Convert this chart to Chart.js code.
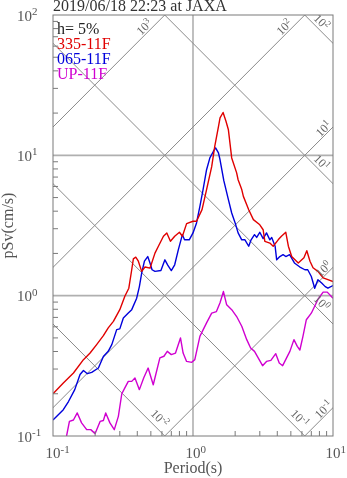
<!DOCTYPE html>
<html>
<head>
<meta charset="utf-8">
<script src="https://cdn.jsdelivr.net/npm/chart.js@4/dist/chart.umd.min.js"></script>
<style>
  html, body { margin: 0; padding: 0; background: #fff; }
  #wrap { width: 347px; height: 478px; position: relative; }
</style>
</head>
<body>
<div id="wrap"><canvas id="chart" width="347" height="478"></canvas></div>
<script>
// Pseudo-velocity response spectra, tripartite log-log plot
const titleText = '2019/06/18 22:23 at JAXA';
const dampingText = 'h= 5%';
const seriesNames = ['335-11F', '065-11F', 'UP-11F'];
const seriesColors = ['#e00000', '#0000dc', '#d000d0'];

// Period (s) and pSv (cm/s) for each component
const periods335 = [0.1,0.1185,0.14,0.165,0.184,0.205,0.229,0.248,0.27,0.3,0.326,0.348,0.365,0.375,0.39,0.407,0.43,0.454,0.493,0.535,0.566,0.615,0.65,0.69,0.74,0.8,0.84,0.9,1.0,1.06,1.16,1.25,1.36,1.43,1.52,1.56,1.64,1.72,1.79,1.89,2.05,2.1,2.23,2.29,2.42,2.5,2.7,3.0,3.17,3.26,3.54,3.74,4.06,4.28,4.6,4.8,5.07,5.65,6.2,6.5,6.85,7.2,7.8,8.5,9.2,10];
const sv335 = [0.2,0.239,0.281,0.35,0.39,0.448,0.519,0.589,0.656,0.795,0.99,1.13,1.53,1.83,1.88,1.76,1.49,1.6,1.57,2.01,2.25,2.65,2.8,2.44,2.65,2.83,2.65,3.26,3.39,3.39,4.1,5.7,8.3,11.6,16,18.5,20.2,17.5,15.2,9.58,7.5,6.7,5.7,5.1,4.45,4.1,3.48,3.2,2.95,2.44,2.37,2.25,2.5,2.65,2.83,2.25,1.9,1.71,1.86,2.09,1.76,1.58,1.49,1.34,1.3,1.26];

const periods065 = [0.1,0.1185,0.129,0.143,0.156,0.165,0.176,0.189,0.211,0.229,0.248,0.263,0.285,0.3,0.318,0.345,0.365,0.396,0.414,0.43,0.45,0.475,0.493,0.51,0.535,0.59,0.63,0.66,0.7,0.74,0.786,0.84,0.87,0.94,1.0,1.06,1.12,1.18,1.25,1.32,1.4,1.45,1.52,1.56,1.66,1.79,1.89,2.0,2.1,2.23,2.35,2.5,2.6,2.75,2.85,3.0,3.17,3.35,3.54,3.65,3.86,3.96,4.17,4.4,4.6,4.9,5.3,5.8,6.3,6.6,7.0,7.4,7.8,8.3,8.8,9.2,10];
const sv065 = [0.13,0.154,0.176,0.214,0.274,0.293,0.278,0.284,0.305,0.369,0.401,0.448,0.573,0.58,0.694,0.752,0.795,0.96,1.16,1.45,1.76,1.9,1.71,1.53,1.49,1.51,1.8,1.65,1.51,1.66,2.13,2.72,2.5,2.5,2.8,3.3,4.33,5.7,7.9,9.6,10.7,11.3,10.4,9.3,6.6,4.83,3.88,3.3,2.8,2.5,2.5,2.25,2.5,2.72,2.6,2.83,2.55,2.8,2.5,2.6,2.25,1.8,1.9,1.96,1.9,1.96,1.71,1.6,1.53,1.53,1.37,1.13,1.3,1.23,1.16,1.13,1.18];

const periodsUP = [0.118,0.125,0.131,0.14,0.149,0.16,0.174,0.186,0.2,0.217,0.229,0.238,0.255,0.274,0.293,0.31,0.326,0.345,0.365,0.385,0.414,0.445,0.478,0.52,0.58,0.62,0.655,0.7,0.75,0.814,0.85,0.9,0.98,1.03,1.12,1.25,1.36,1.47,1.56,1.65,1.74,1.89,2.05,2.23,2.42,2.58,2.75,2.97,3.14,3.35,3.6,3.9,4.13,4.37,4.66,4.92,5.26,5.56,5.8,6.1,6.45,7.0,7.4,7.8,8.5,9.1,10];
const svUP = [0.085,0.1,0.127,0.13,0.146,0.124,0.111,0.111,0.104,0.127,0.129,0.146,0.124,0.111,0.138,0.2,0.22,0.245,0.245,0.259,0.214,0.26,0.305,0.232,0.36,0.37,0.401,0.38,0.39,0.5,0.39,0.34,0.335,0.35,0.513,0.64,0.75,0.77,0.89,1.07,0.86,0.795,0.71,0.605,0.486,0.424,0.401,0.35,0.317,0.34,0.346,0.386,0.331,0.317,0.36,0.401,0.486,0.435,0.41,0.513,0.674,0.75,0.84,0.94,1.06,1.06,0.96];

// Axis decades (exponents) and diagonal guide levels
const xTickExponents = [-1, 0, 1];
const yTickExponents = [-1, 0, 1, 2];
const accelExponents = [-1, 0, 1, 2, 3];   // Sa (cm/s^2)
const dispExponents = [-2, -1, 0, 1, 2];    // Sd (cm)

const TWO_PI = 2 * Math.PI;
const SERIF = '"Liberation Serif", "Times New Roman", serif';

function zip(xs, ys) { return xs.map((x, i) => ({ x: x, y: ys[i] })); }

// Constant-acceleration lines: Sv = Sa*T/(2*pi); constant-displacement: Sv = 2*pi*Sd/T
const guideT = [0.05, 20];
const guideSets = [];
accelExponents.forEach(e => {
  const sa = Math.pow(10, e);
  guideSets.push({ data: guideT.map(t => ({ x: t, y: sa * t / TWO_PI })) });
});
dispExponents.forEach(e => {
  const sd = Math.pow(10, e);
  guideSets.push({ data: guideT.map(t => ({ x: t, y: TWO_PI * sd / t })) });
});

const curveSets = [
  { data: zip(periods335, sv335), borderColor: seriesColors[0] },
  { data: zip(periods065, sv065), borderColor: seriesColors[1] },
  { data: zip(periodsUP, svUP), borderColor: seriesColors[2] }
].map(d => Object.assign(d, { borderWidth: 1.4, pointRadius: 0, tension: 0, clip: 0, order: 0, fill: false }));

guideSets.forEach(d => Object.assign(d, { borderColor: '#8a8a8a', borderWidth: 1, pointRadius: 0, tension: 0, clip: 0, order: 1, fill: false }));

// "10" with a raised exponent
function drawPow(ctx, exp, x, y, size, supSize, align) {
  ctx.font = size + 'px ' + SERIF;
  const wb = ctx.measureText('10').width;
  ctx.font = supSize + 'px ' + SERIF;
  const ws = ctx.measureText(exp).width;
  let x0 = x;
  if (align === 'center') x0 = x - (wb + ws) / 2;
  else if (align === 'baseCenter') x0 = x - wb / 2;
  ctx.textAlign = 'left';
  ctx.textBaseline = 'alphabetic';
  ctx.font = size + 'px ' + SERIF;
  ctx.fillText('10', x0, y);
  ctx.font = supSize + 'px ' + SERIF;
  ctx.fillText(exp, x0 + wb, y - size * 0.36);
}

function fmtExp(e) { return e < 0 ? '-' + (-e) : String(e); }

const decorPlugin = {
  id: 'decor',
  beforeDatasetsDraw(chart) {
    const { ctx, chartArea: a, scales: { x, y } } = chart;
    ctx.save();
    ctx.strokeStyle = '#b0b0b0';
    ctx.lineWidth = 1.6;
    xTickExponents.forEach(e => {
      const px = x.getPixelForValue(Math.pow(10, e));
      if (px > a.left + 1 && px < a.right - 1) {
        ctx.beginPath(); ctx.moveTo(px, a.top); ctx.lineTo(px, a.bottom); ctx.stroke();
      }
    });
    yTickExponents.forEach(e => {
      const py = y.getPixelForValue(Math.pow(10, e));
      if (py > a.top + 1 && py < a.bottom - 1) {
        ctx.beginPath(); ctx.moveTo(a.left, py); ctx.lineTo(a.right, py); ctx.stroke();
      }
    });
    ctx.restore();
  },
  afterDatasetsDraw(chart) {
    const { ctx, chartArea: a, scales: { x, y } } = chart;
    ctx.save();
    // frame
    ctx.strokeStyle = '#7a7a7a';
    ctx.lineWidth = 1;
    ctx.strokeRect(a.left, a.top, a.right - a.left, a.bottom - a.top);

    // minor ticks, inward, on left and bottom axes
    ctx.beginPath();
    for (let e = -1; e < 2; e++) {
      for (let k = 2; k <= 9; k++) {
        const py = y.getPixelForValue(k * Math.pow(10, e));
        ctx.moveTo(a.left, py); ctx.lineTo(a.left + 5, py);
      }
    }
    for (let e = -1; e < 1; e++) {
      for (let k = 2; k <= 9; k++) {
        const px = x.getPixelForValue(k * Math.pow(10, e));
        ctx.moveTo(px, a.bottom); ctx.lineTo(px, a.bottom - 5);
      }
    }
    ctx.stroke();

    // labels on the diagonal guide lines
    ctx.fillStyle = '#666';
    const s2 = Math.SQRT1_2;
    const xMax = x.max, yMax = y.max, yMin = y.min;
    accelExponents.forEach(e => {
      const sa = Math.pow(10, e);
      let tExit = yMax * TWO_PI / sa, svExit = yMax, along = 23, perp = 6;
      if (tExit > xMax) { tExit = xMax; svExit = sa * xMax / TWO_PI; along = 8; perp = 5.5; }
      const ex = x.getPixelForValue(tExit), ey = y.getPixelForValue(svExit);
      const cx = ex - along * s2 - perp * s2;
      const cy = ey + along * s2 - perp * s2;
      ctx.save();
      ctx.translate(cx, cy);
      ctx.rotate(-Math.PI / 4);
      drawPow(ctx, fmtExp(e), 0, 4, 12, 9, 'center');
      ctx.restore();
    });
    dispExponents.forEach(e => {
      const sd = Math.pow(10, e);
      let tExit = xMax, svExit = TWO_PI * sd / xMax, along = 23, perp = 7;
      if (svExit < yMin) { svExit = yMin; tExit = TWO_PI * sd / yMin; along = 16; perp = 9; }
      const ex = x.getPixelForValue(tExit), ey = y.getPixelForValue(svExit);
      const cx = ex - along * s2 + perp * s2;
      const cy = ey - along * s2 - perp * s2;
      ctx.save();
      ctx.translate(cx, cy);
      ctx.rotate(Math.PI / 4);
      drawPow(ctx, fmtExp(e), 0, 4, 12, 9, 'center');
      ctx.restore();
    });
    ctx.restore();
  },
  afterDraw(chart) {
    const { ctx, chartArea: a, scales: { x, y } } = chart;
    ctx.save();
    // tick labels
    ctx.fillStyle = '#555';
    yTickExponents.forEach(e => {
      const py = y.getPixelForValue(Math.pow(10, e));
      drawPow(ctx, fmtExp(e), 17, py + 5.5, 15, 11, 'left');
    });
    xTickExponents.forEach(e => {
      const px = x.getPixelForValue(Math.pow(10, e));
      drawPow(ctx, fmtExp(e), px, 458, 15, 11, 'baseCenter');
    });

    // axis titles
    ctx.font = '16px ' + SERIF;
    ctx.textAlign = 'center';
    ctx.textBaseline = 'alphabetic';
    ctx.fillText('Period(s)', (a.left + a.right) / 2, 473);
    ctx.save();
    ctx.translate(13, (a.top + a.bottom) / 2);
    ctx.rotate(-Math.PI / 2);
    ctx.fillText('pSv(cm/s)', 0, 0);
    ctx.restore();

    // chart title
    ctx.fillStyle = '#333';
    ctx.textAlign = 'left';
    ctx.fillText(titleText, a.left, 11);

    // legend block
    ctx.fillStyle = '#222';
    ctx.fillText(dampingText, 57, 34);
    seriesNames.forEach((n, i) => {
      ctx.fillStyle = seriesColors[i];
      ctx.fillText(n, 57, 49 + i * 15);
    });
    ctx.restore();
  }
};

new Chart(document.getElementById('chart'), {
  type: 'line',
  data: { datasets: curveSets.concat(guideSets) },
  options: {
    responsive: false,
    animation: false,
    devicePixelRatio: 1,
    parsing: true,
    layout: { padding: { left: 53, top: 15, right: 14, bottom: 42 } },
    scales: {
      x: { type: 'logarithmic', min: 0.1, max: 10, display: false },
      y: { type: 'logarithmic', min: 0.1, max: 100, display: false }
    },
    plugins: { legend: { display: false }, tooltip: { enabled: false }, title: { display: false } },
    elements: { line: { borderJoinStyle: 'round' } }
  },
  plugins: [decorPlugin]
});
</script>
</body>
</html>
